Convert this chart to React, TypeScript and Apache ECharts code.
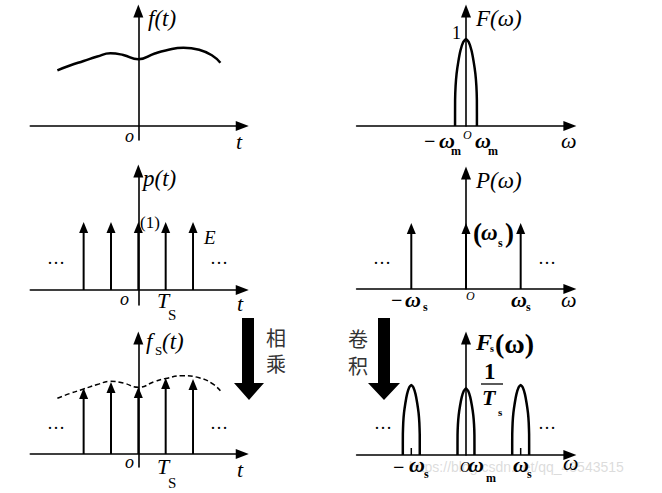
import React, { useEffect, useRef } from 'react';
import * as echarts from 'echarts';

// ---- data ----
// time panels: t in units of Ts, amplitude in arbitrary units
const fCurve: number[][] = [
  [-2.96, 5.57], [-2.5, 6.05], [-2.0, 6.5], [-1.5, 6.95], [-1.02, 7.27], [-0.55, 7.1],
  [0, 6.67], [0.6, 7.25], [1.0, 7.55], [1.65, 7.83], [2.25, 7.6], [2.7, 7.05], [3.0, 6.33],
];
const tImpulses = [-2, -1, 0, 1, 2];
const pHeights = [6.8, 6.8, 6.8, 6.8, 6.8];
const fsHeights = [6.6, 7.2, 6.7, 7.6, 7.5];

// frequency panels: omega in units of omega_s
const wImpulses = [-1, 0, 1];
const PHeights = [1, 1, 1];
// normalised spectrum pulse outline [u, v], u in [-1,1] of half-width, v of peak
const pulseShape: number[][] = [
  [-1, 0], [-0.995, 0.3], [-0.95, 0.46], [-0.86, 0.6], [-0.7, 0.74], [-0.5, 0.87],
  [-0.25, 0.965], [0, 1], [0.25, 0.965], [0.5, 0.87], [0.7, 0.74], [0.86, 0.6],
  [0.95, 0.46], [0.995, 0.3], [1, 0],
];
const FCenters = [0];
const FPeaks = [1];
const FHalfWidth = 0.2;
const FsCenters = [-1, 0, 1];
const FsPeaks = [1, 0.95, 1];
const FsHalfWidth = 0.155;
const FsTicks = [-1, 1];

const SERIF = '"Liberation Serif", "Times New Roman", serif';
const CJK = '"Noto Sans CJK SC", sans-serif';

function xAxis(i: number, min: number, max: number) {
  return {
    type: 'value', gridIndex: i, min, max,
    axisLine: { show: true, onZero: true, symbol: ['none', 'triangle'], symbolSize: [10, 13], lineStyle: { color: '#000', width: 1.6 } },
    axisTick: { show: false }, axisLabel: { show: false }, splitLine: { show: false },
  };
}
function yAxis(i: number, min: number, max: number) {
  return {
    type: 'value', gridIndex: i, min, max,
    axisLine: { show: true, onZero: true, symbol: ['none', 'triangle'], symbolSize: [10, 13], lineStyle: { color: '#000', width: 1.6 } },
    axisTick: { show: false }, axisLabel: { show: false }, splitLine: { show: false },
  };
}

const impulseRender = (params: any, api: any) => {
  const x = api.value(0);
  const h = api.value(1);
  const p0 = api.coord([x, 0]);
  const p1 = api.coord([x, h]);
  const hh = 11, hw = 4.5;
  return {
    type: 'group',
    children: [
      { type: 'line', shape: { x1: p0[0], y1: p0[1], x2: p1[0], y2: p1[1] + hh - 1 }, style: { stroke: '#000', lineWidth: 2 } },
      { type: 'polygon', shape: { points: [[p1[0], p1[1]], [p1[0] - hw, p1[1] + hh], [p1[0] + hw, p1[1] + hh]] }, style: { fill: '#000' } },
    ],
  };
};

const tickRender = (params: any, api: any) => {
  const x = api.value(0);
  const h = api.value(1);
  const p0 = api.coord([x, 0]);
  const p1 = api.coord([x, h]);
  return { type: 'line', shape: { x1: p0[0], y1: p0[1], x2: p1[0], y2: p1[1] }, style: { stroke: '#000', lineWidth: 1.5 } };
};

function pulseData(c: number, w: number, h: number) {
  return pulseShape.map(([u, v]) => [c + u * w, v * h]);
}

function txt(x: number, y: number, text: string, font: string, fill = '#000', z = 10) {
  return { type: 'text', x, y, z, silent: true, style: { text, font, fill, verticalAlign: 'middle', align: 'left' } };
}

const it = (s: number) => `italic ${s}px ${SERIF}`;
const bi = (s: number) => `italic bold ${s}px ${SERIF}`;
const bd = (s: number) => `bold ${s}px ${SERIF}`;
const rg = (s: number) => `${s}px ${SERIF}`;

export default function App() {
  const ref = useRef<HTMLDivElement>(null);
  useEffect(() => {
    if (!ref.current) return;
    const chart = echarts.init(ref.current, null, { renderer: 'svg' });

    const leftGrid = { left: 30.3, width: 211.96 };
    const rightGrid = { left: 356.6, width: 213.3 };
    const grids = [
      { ...leftGrid, top: 11, height: 129 },
      { ...rightGrid, top: 11, height: 115 },
      { ...leftGrid, top: 171, height: 134 },
      { ...rightGrid, top: 173, height: 116 },
      { ...leftGrid, top: 338, height: 129 },
      { ...rightGrid, top: 338, height: 117 },
    ].map((g) => ({ ...g, containLabel: false, outerBoundsMode: 'none', show: false }));

    const series: any[] = [
      { type: 'line', xAxisIndex: 0, yAxisIndex: 0, data: fCurve, smooth: 0.5, showSymbol: false, lineStyle: { color: '#000', width: 2.5 }, silent: true },
      { type: 'custom', xAxisIndex: 2, yAxisIndex: 2, renderItem: impulseRender, data: tImpulses.map((t, i) => [t, pHeights[i]]) },
      { type: 'line', xAxisIndex: 4, yAxisIndex: 4, data: fCurve, smooth: 0.5, showSymbol: false, lineStyle: { color: '#000', width: 1.5, type: [5, 3] }, silent: true },
      { type: 'custom', xAxisIndex: 4, yAxisIndex: 4, renderItem: impulseRender, data: tImpulses.map((t, i) => [t, fsHeights[i]]) },
      { type: 'custom', xAxisIndex: 3, yAxisIndex: 3, renderItem: impulseRender, data: wImpulses.map((w, i) => [w, PHeights[i]]) },
      { type: 'custom', xAxisIndex: 5, yAxisIndex: 5, renderItem: tickRender, data: FsTicks.map((w) => [w, 0.1]) },
    ];
    FCenters.forEach((c, i) => {
      series.push({ type: 'line', xAxisIndex: 1, yAxisIndex: 1, data: pulseData(c, FHalfWidth, FPeaks[i]), showSymbol: false, smooth: 0.15, lineStyle: { color: '#000', width: 2.5 }, silent: true });
    });
    FsCenters.forEach((c, i) => {
      series.push({ type: 'line', xAxisIndex: 5, yAxisIndex: 5, data: pulseData(c, FsHalfWidth, FsPeaks[i]), showSymbol: false, smooth: 0.15, lineStyle: { color: '#000', width: 2.5 }, silent: true });
    });

    const graphic: any[] = [
      // watermark
      txt(409, 467, 'https://blog.csdn.net/qq_43543515', '14px "Liberation Sans", Arial, sans-serif', 'rgba(185,185,185,0.5)', 1),
      // top-left
      txt(148, 18, 'f(t)', it(23)),
      txt(125, 136, 'o', it(18)),
      txt(236, 141, 't', it(22)),
      // top-right
      txt(476, 18, 'F(ω)', it(23)),
      txt(452, 33, '1', rg(18)),
      txt(424, 141, '−', bd(20)),
      txt(439, 140, 'ω', bi(22)),
      txt(451, 151, 'm', bd(12)),
      txt(463, 135, 'O', it(12)),
      txt(475, 140, 'ω', bi(22)),
      txt(488, 151, 'm', bd(12)),
      txt(561, 140, 'ω', it(22)),
      // middle-left
      txt(143, 178, 'p(t)', it(23)),
      txt(140, 222, '(1)', rg(17)),
      txt(204, 237, 'E', it(19)),
      txt(47, 257.5, '…', rg(18)),
      txt(210, 257.5, '…', rg(18)),
      txt(120, 299, 'o', it(18)),
      txt(157, 300, 'T', it(22)),
      txt(168, 315, 'S', rg(15)),
      txt(237, 303, 't', it(22)),
      // middle-right
      txt(476, 180, 'P(ω)', it(23)),
      txt(473, 233, '(', bd(27)),
      txt(481, 232.6, 'ω', bi(23)),
      txt(498, 243, 's', bd(12)),
      txt(505, 233, ')', bd(27)),
      txt(373, 257.5, '…', rg(18)),
      txt(538, 257.5, '…', rg(18)),
      txt(391, 300, '−', bd(20)),
      txt(405, 299.6, 'ω', bi(22)),
      txt(423, 307, 's', bd(12)),
      txt(466, 296, 'O', it(12)),
      txt(511, 299.6, 'ω', bi(22)),
      txt(526, 307, 's', bd(12)),
      txt(561, 299, 'ω', it(22)),
      // bottom-left
      txt(146, 341.6, 'f', it(23)),
      txt(155, 350, 'S', rg(13)),
      txt(162, 341.6, '(t)', it(23)),
      txt(47, 422.5, '…', rg(18)),
      txt(210, 422.5, '…', rg(18)),
      txt(125, 462, 'o', it(18)),
      txt(157, 466.6, 'T', it(22)),
      txt(168, 483, 'S', rg(15)),
      txt(237, 469.6, 't', it(22)),
      txt(266, 337, '相', `20px ${CJK}`, '#333'),
      txt(266, 363, '乘', `20px ${CJK}`, '#333'),
      // bottom-right
      txt(348, 338, '卷', `20px ${CJK}`, '#333'),
      txt(348, 365, '积', `20px ${CJK}`, '#333'),
      txt(476, 342, 'F', bi(24)),
      txt(490, 348, 's', bd(10)),
      txt(495, 343, '(ω)', bd(28)),
      txt(484, 371, '1', bd(23)),
      { type: 'line', shape: { x1: 481, y1: 384, x2: 503, y2: 384 }, style: { stroke: '#000', lineWidth: 1.3 }, silent: true },
      txt(482, 397, 'T', bi(22)),
      txt(498, 412, 's', bd(11)),
      txt(374, 422.5, '…', rg(18)),
      txt(538, 422.5, '…', rg(18)),
      txt(393, 467, '−', bd(20)),
      txt(409, 464.6, 'ω', bi(22)),
      txt(424, 474, 's', bd(12)),
      txt(460, 467, 'O', it(14)),
      txt(468, 464.6, 'ω', bi(22)),
      txt(486, 478, 'm', bd(12)),
      txt(513, 464.6, 'ω', bi(22)),
      txt(527, 474, 's', bd(12)),
      txt(563, 462.6, 'ω', it(22)),
      // block arrows
      { type: 'polygon', silent: true, shape: { points: [[242, 318], [254, 318], [254, 383], [264, 383], [249, 400], [234, 383], [242, 383]] }, style: { fill: '#000' } },
      { type: 'polygon', silent: true, shape: { points: [[378, 318], [390, 318], [390, 383], [400, 383], [384, 400], [368, 383], [378, 383]] }, style: { fill: '#000' } },
    ];

    chart.setOption({
      animation: false,
      backgroundColor: '#fff',
      grid: grids,
      xAxis: [xAxis(0, -3.95, 3.8), xAxis(1, -2, 1.9), xAxis(2, -3.95, 3.8), xAxis(3, -2, 1.9), xAxis(4, -3.95, 3.8), xAxis(5, -2, 1.9)],
      yAxis: [yAxis(0, -1.4, 11.5), yAxis(1, 0, 1.322), yAxis(2, -1.5, 11.9), yAxis(3, 0, 1.758), yAxis(4, -1.3, 11.6), yAxis(5, 0, 1.671)],
      series,
      graphic,
    } as any);
    return () => chart.dispose();
  }, []);
  return <div ref={ref} style={{ position: 'fixed', left: 0, top: 0, width: 662, height: 493, background: '#fff' }} />;
}
